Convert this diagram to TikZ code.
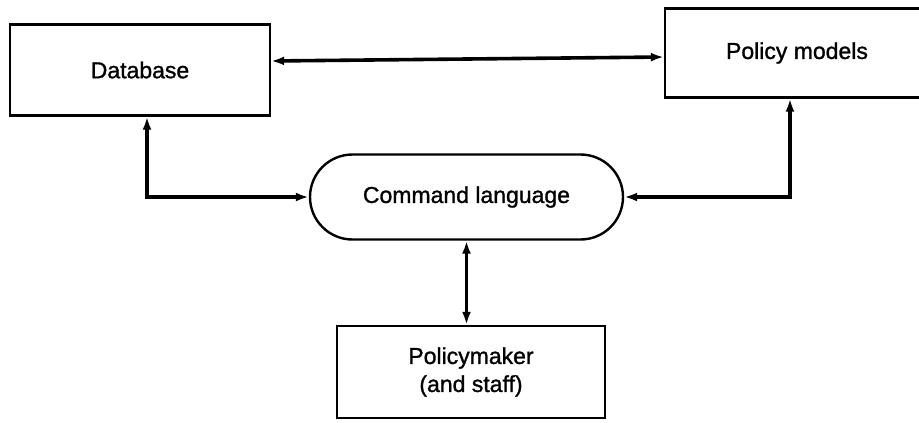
\documentclass[tikz,border=0pt]{standalone}
\usepackage{fontspec}
\setmainfont{Liberation Sans}
\newfontfamily\lblfont[FakeBold=1.2]{Liberation Sans}
\usetikzlibrary{arrows.meta,shapes.misc}
\begin{document}
\begin{tikzpicture}[x=1pt,y=-1pt,
  box/.style={draw,line width=2.4pt,rectangle,align=center,inner sep=0pt},
  pill/.style={draw,line width=2.4pt,rounded rectangle,align=center,inner sep=0pt},
  lbl/.style={font=\lblfont\fontsize{23}{28}\selectfont},
  link/.style={line width=3.6pt,{Latex[length=13pt,width=9pt]}-{Latex[length=13pt,width=9pt]}}]
\clip (0,0) rectangle (919,423);
\fill[white] (0,0) rectangle (919,423);
\node[box,lbl,minimum width=260pt,minimum height=91pt] (db) at (140,70) {Database};
\node[box,lbl,minimum width=272pt,minimum height=89pt] (pm) at (801,53) {};
\node[lbl] (pmt) at (797,53) {Policy models};
\node[pill,lbl,minimum width=313pt,minimum height=85pt] (cl) at (466.5,197) {Command language};
\node[box,lbl,minimum width=268pt,minimum height=92pt] (pk) at (471,372) {Policymaker\\(and staff)};
\draw[link] ([yshift=9pt]db.east) -- ([yshift=-4pt]pm.west);
\draw[link] ([xshift=7pt]db.south) |- (cl.west);
\draw[link] ([xshift=-11pt]pm.south) |- (cl.east);
\draw[link] (cl.south) -- (cl.south |- pk.north);
\end{tikzpicture}
\end{document}
